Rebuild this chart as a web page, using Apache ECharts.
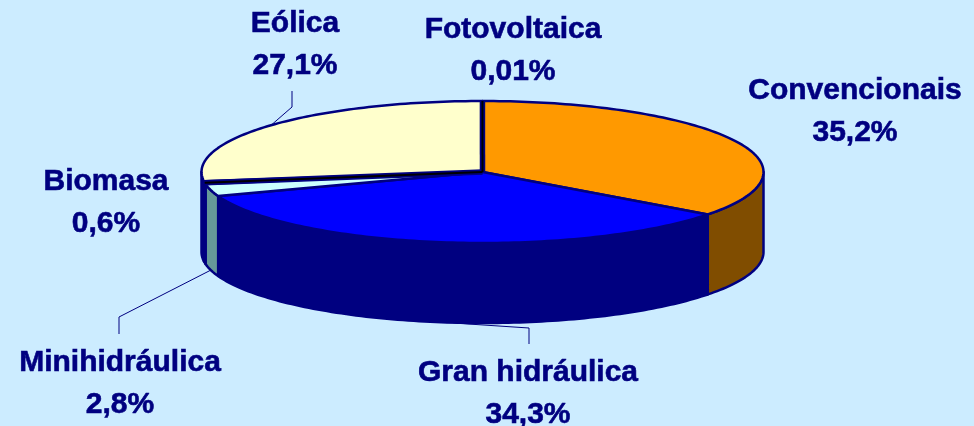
<!DOCTYPE html>
<html><head><meta charset="utf-8">
<style>html,body{margin:0;padding:0;background:#CCECFF}#c{width:974px;height:426px}</style>
<script src="https://cdn.jsdelivr.net/npm/echarts@6/dist/echarts.min.js"></script>
</head><body><div id="c"></div>
<script>
// data
const categories = ['Convencionais','Gran hidráulica','Minihidráulica','Biomasa','Eólica','Fotovoltaica'];
const values = [35.2, 34.3, 2.8, 0.6, 27.1, 0.01];
const valueLabels = ['35,2%','34,3%','2,8%','0,6%','27,1%','0,01%'];
// styles
const topColors = ['#FF9900','#0000FF','#CCFFFF','#000000','#FFFFCC','#000000'];
const sideColors = ['#804D00','#000080','#669999','#000080','#000080','#000080'];
const OUTLINE = '#000080', BG = '#CCECFF';
// layout
const CX = 482.5, CY = 172, RX = 281, RY = 71, DEPTH = 80;
const labelCentres = [[855,91],[528,373],[120,363],[106,182],[295,24],[513,30]];
const LINE_GAP = 41.5;
const elbows = [null,[[529,328],[529,344]],[[119,317],[119,334]],null,[[292,107],[292,91]],null];

const total = values.reduce((a,b)=>a+b,0);
const angles = []; { let acc = 0; values.forEach(v=>{ const a=acc/total*Math.PI*2; acc+=v; angles.push([a, acc/total*Math.PI*2]); }); }
const pt = (t,dy=0)=>[CX+RX*Math.sin(t), CY-RY*Math.cos(t)+dy];
function arc(a,b,dy=0){ const n=Math.max(2,Math.ceil(Math.abs(b-a)/0.02)), r=[]; for(let i=0;i<=n;i++) r.push(pt(a+(b-a)*i/n,dy)); return r; }

function renderSide(p,api){
  const [a,b]=angles[api.value(0)];
  const s=Math.max(a,Math.PI/2), e=Math.min(b,Math.PI*1.5);
  if(e<=s) return {type:'group',children:[]};
  return {type:'polygon',shape:{points:arc(s,e).concat(arc(e,s,DEPTH))},
    style:{fill:sideColors[api.value(0)],stroke:OUTLINE,lineWidth:2.5,lineJoin:'round'}};
}
function renderTop(p,api){
  const i=api.value(0), [a,b]=angles[i];
  if((b-a)<0.05){
    const q=pt((a+b)/2);
    return {type:'group',children:[
      {type:'line',z2:5,shape:{x1:CX,y1:CY,x2:q[0],y2:q[1]},style:{stroke:OUTLINE,lineWidth:5.5}},
      {type:'line',z2:6,shape:{x1:CX,y1:CY,x2:q[0],y2:q[1]},style:{stroke:topColors[i],lineWidth:2}}
    ]};
  }
  return {type:'polygon',shape:{points:[[CX,CY]].concat(arc(a,b))},
    style:{fill:topColors[i],stroke:OUTLINE,lineWidth:2.5,lineJoin:'round'}};
}
function renderLabel(p,api){
  const i=api.value(0), [a,b]=angles[i], c=labelCentres[i], kids=[];
  [[categories[i],0],[valueLabels[i],LINE_GAP]].forEach(([t,d])=>kids.push({type:'text',
    style:{text:t,x:c[0],y:c[1]+d,align:'center',verticalAlign:'middle',fill:'#000080',
      stroke:'#000080',lineWidth:0.6,
      font:'bold 30px "Liberation Sans", Arial, sans-serif'}}));
  if(elbows[i]){
    const m=(a+b)/2, anchor=pt(m,(m>Math.PI/2&&m<Math.PI*1.5)?DEPTH:0);
    kids.push({type:'polyline',shape:{points:[anchor].concat(elbows[i])},
      style:{stroke:OUTLINE,lineWidth:1,fill:null}});
  }
  return {type:'group',children:kids};
}
const rows = values.map((v,i)=>[i,v]);
const chart = echarts.init(document.getElementById('c'),null,{renderer:'canvas'});
chart.setOption({
  animation:false, backgroundColor:BG,
  series:[
    {type:'custom',coordinateSystem:'none',data:rows,renderItem:renderLabel,z:1,silent:true},
    {type:'custom',coordinateSystem:'none',data:rows,renderItem:renderSide,z:2,silent:true},
    {type:'custom',coordinateSystem:'none',data:rows,renderItem:renderTop,z:3,silent:true}
  ]
});
</script></body></html>
